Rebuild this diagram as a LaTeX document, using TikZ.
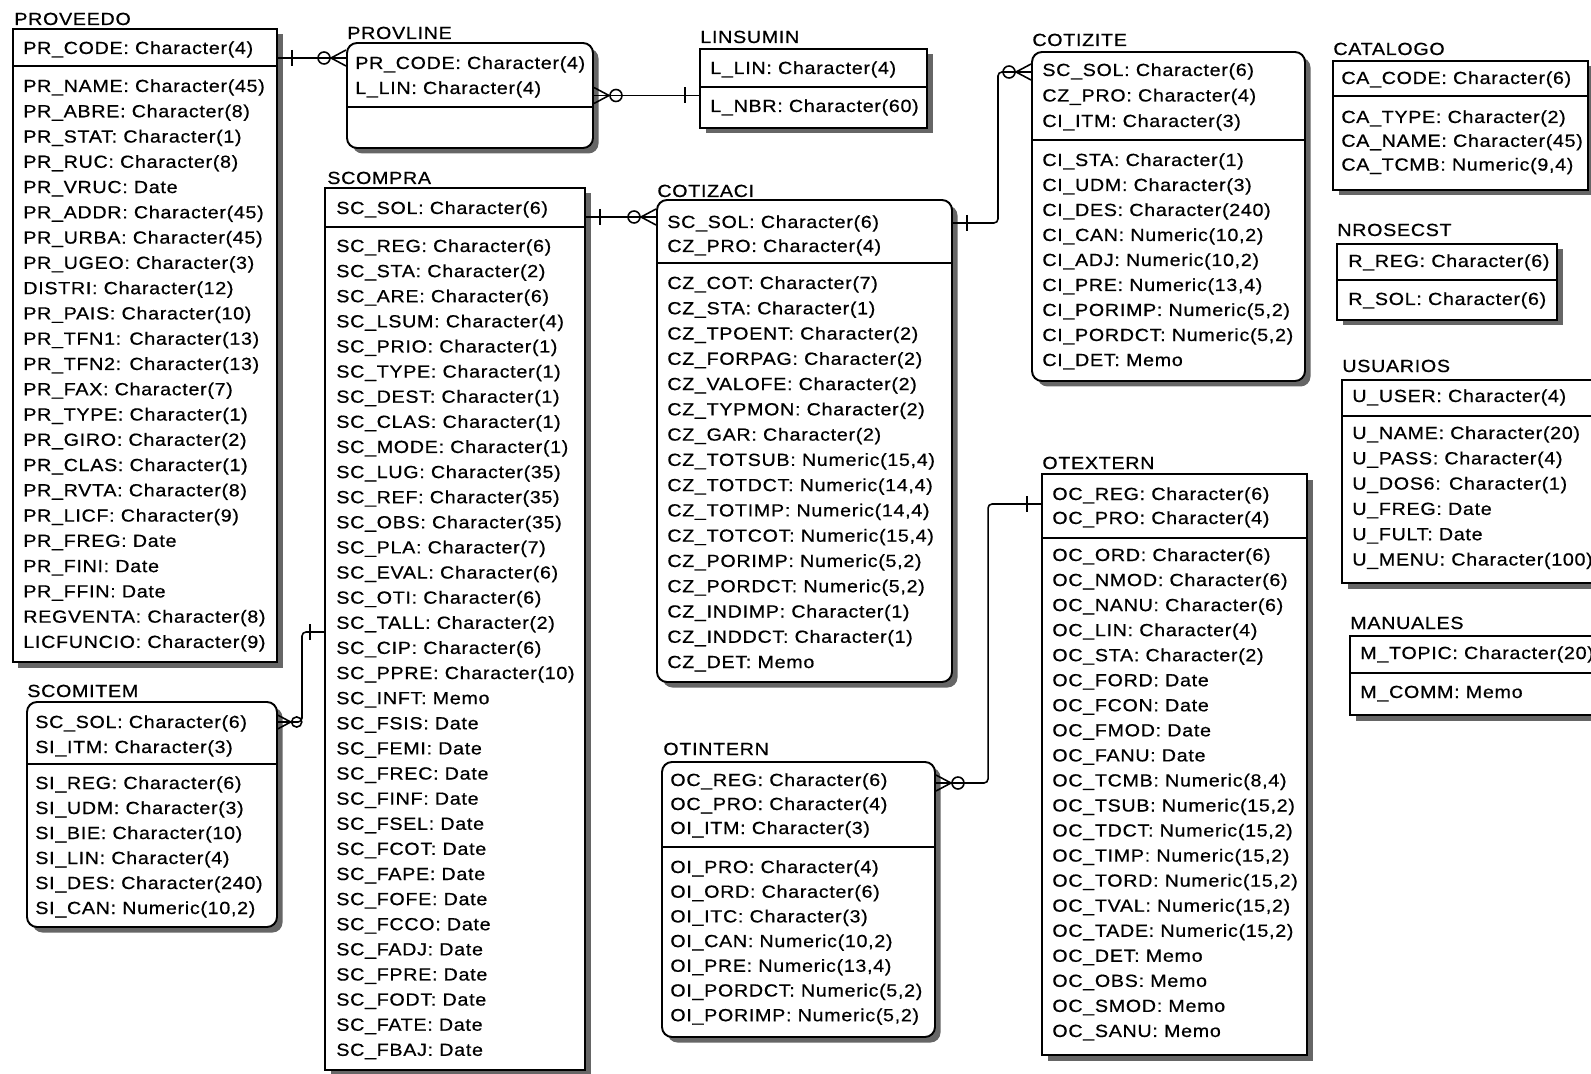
\documentclass[tikz,border=0pt]{standalone}
\usepackage{fontspec}
\setmainfont{Liberation Sans}[FakeStretch=1.12,LetterSpace=4,FakeBold=0.6]
\usetikzlibrary{fit,shadows}

\tikzset{
  ent/.style={draw,line width=1.1pt,fill=white,inner sep=0pt,
    drop shadow={shadow xshift=0.11cm,shadow yshift=-0.11cm,fill=black!60,opacity=1}},
  dep/.style={ent,rounded corners=0.2cm},
  ttl/.style={anchor=base west,inner sep=0pt},
  fld/.style={anchor=base west,inner sep=0pt},
  sep/.style={line width=1.1pt},
  rel/.style={line width=0.9pt},
  one/.pic={\draw[rel] (14,-8) -- (14,8);},
  zmany/.pic={\draw[rel] (0,-8) -- (15,0) -- (0,8); \draw[rel] (22,0) circle[radius=1.2mm];},
}

\begin{document}
\begin{tikzpicture}[x=0.02cm,y=-0.02cm,every node/.style={font=\fontsize{10pt}{12pt}\selectfont}]
\useasboundingbox (0,0) rectangle (1591,1074);
\fill[white] (0,0) rectangle (1591,1074);
\clip (0,0) rectangle (1591,1074);

% PROVEEDO
\node[ent,fit={(13,29) (277,662)}] (proveedo) {};
\node[ttl] (proveedo-t) at (14,25) {PROVEEDO};
\draw[sep] (proveedo.west |- 0,66) -- (proveedo.east |- 0,66);
\node[fld] (proveedo-k0) at (23,54) {PR\_CODE: Character(4)};
\foreach \row [count=\i from 0] in {PR\_NAME: Character(45), PR\_ABRE: Character(8), PR\_STAT: Character(1),
  PR\_RUC: Character(8), PR\_VRUC: Date, PR\_ADDR: Character(45), PR\_URBA: Character(45), PR\_UGEO: Character(3),
  DISTRI: Character(12), PR\_PAIS: Character(10), PR\_TFN1: Character(13), PR\_TFN2: Character(13),
  PR\_FAX: Character(7), PR\_TYPE: Character(1), PR\_GIRO: Character(2), PR\_CLAS: Character(1),
  PR\_RVTA: Character(8), PR\_LICF: Character(9), PR\_FREG: Date, PR\_FINI: Date, PR\_FFIN: Date,
  REGVENTA: Character(8), LICFUNCIO: Character(9)}
  \node[fld] (proveedo-b\i) at (23,{92+25.27*\i}) {\row};

% PROVLINE
\node[dep,fit={(347,43) (593,148)}] (provline) {};
\node[ttl] (provline-t) at (347,39) {PROVLINE};
\draw[sep] (provline.west |- 0,107) -- (provline.east |- 0,107);
\foreach \row [count=\i from 0] in {PR\_CODE: Character(4), L\_LIN: Character(4)}
  \node[fld] (provline-k\i) at (355,{69+25*\i}) {\row};

% LINSUMIN
\node[ent,fit={(700,49) (927,128)}] (linsumin) {};
\node[ttl] (linsumin-t) at (700,43) {LINSUMIN};
\draw[sep] (linsumin.west |- 0,87) -- (linsumin.east |- 0,87);
\node[fld] (linsumin-k0) at (710,74) {L\_LIN: Character(4)};
\node[fld] (linsumin-b0) at (710,112) {L\_NBR: Character(60)};

% SCOMPRA
\node[ent,fit={(325,188) (585,1070)}] (scompra) {};
\node[ttl] (scompra-t) at (327,184) {SCOMPRA};
\draw[sep] (scompra.west |- 0,227) -- (scompra.east |- 0,227);
\node[fld] (scompra-k0) at (336,214) {SC\_SOL: Character(6)};
\foreach \row [count=\i from 0] in {SC\_REG: Character(6), SC\_STA: Character(2), SC\_ARE: Character(6),
  SC\_LSUM: Character(4), SC\_PRIO: Character(1), SC\_TYPE: Character(1), SC\_DEST: Character(1),
  SC\_CLAS: Character(1), SC\_MODE: Character(1), SC\_LUG: Character(35), SC\_REF: Character(35),
  SC\_OBS: Character(35), SC\_PLA: Character(7), SC\_EVAL: Character(6), SC\_OTI: Character(6),
  SC\_TALL: Character(2), SC\_CIP: Character(6), SC\_PPRE: Character(10), SC\_INFT: Memo,
  SC\_FSIS: Date, SC\_FEMI: Date, SC\_FREC: Date, SC\_FINF: Date, SC\_FSEL: Date, SC\_FCOT: Date,
  SC\_FAPE: Date, SC\_FOFE: Date, SC\_FCCO: Date, SC\_FADJ: Date, SC\_FPRE: Date, SC\_FODT: Date,
  SC\_FATE: Date, SC\_FBAJ: Date}
  \node[fld] (scompra-b\i) at (336,{252+25.12*\i}) {\row};

% SCOMITEM
\node[dep,fit={(27,702) (277,927)}] (scomitem) {};
\node[ttl] (scomitem-t) at (27,697) {SCOMITEM};
\draw[sep] (scomitem.west |- 0,764) -- (scomitem.east |- 0,764);
\foreach \row [count=\i from 0] in {SC\_SOL: Character(6), SI\_ITM: Character(3)}
  \node[fld] (scomitem-k\i) at (35,{728+25*\i}) {\row};
\foreach \row [count=\i from 0] in {SI\_REG: Character(6), SI\_UDM: Character(3), SI\_BIE: Character(10),
  SI\_LIN: Character(4), SI\_DES: Character(240), {SI\_CAN: Numeric(10,2)}}
  \node[fld] (scomitem-b\i) at (35,{789+25*\i}) {\row};

% COTIZACI
\node[dep,fit={(657,200) (952,682)}] (cotizaci) {};
\node[ttl] (cotizaci-t) at (657,197) {COTIZACI};
\draw[sep] (cotizaci.west |- 0,263) -- (cotizaci.east |- 0,263);
\foreach \row [count=\i from 0] in {SC\_SOL: Character(6), CZ\_PRO: Character(4)}
  \node[fld] (cotizaci-k\i) at (667,{228+24*\i}) {\row};
\foreach \row [count=\i from 0] in {CZ\_COT: Character(7), CZ\_STA: Character(1), CZ\_TPOENT: Character(2),
  CZ\_FORPAG: Character(2), CZ\_VALOFE: Character(2), CZ\_TYPMON: Character(2), CZ\_GAR: Character(2),
  {CZ\_TOTSUB: Numeric(15,4)}, {CZ\_TOTDCT: Numeric(14,4)}, {CZ\_TOTIMP: Numeric(14,4)},
  {CZ\_TOTCOT: Numeric(15,4)}, {CZ\_PORIMP: Numeric(5,2)}, {CZ\_PORDCT: Numeric(5,2)},
  CZ\_INDIMP: Character(1), CZ\_INDDCT: Character(1), CZ\_DET: Memo}
  \node[fld] (cotizaci-b\i) at (667,{289+25.27*\i}) {\row};

% COTIZITE
\node[dep,fit={(1032,52) (1305,381)}] (cotizite) {};
\node[ttl] (cotizite-t) at (1032,46) {COTIZITE};
\draw[sep] (cotizite.west |- 0,140) -- (cotizite.east |- 0,140);
\foreach \row [count=\i from 0] in {SC\_SOL: Character(6), CZ\_PRO: Character(4), CI\_ITM: Character(3)}
  \node[fld] (cotizite-k\i) at (1042,{76+25.5*\i}) {\row};
\foreach \row [count=\i from 0] in {CI\_STA: Character(1), CI\_UDM: Character(3), CI\_DES: Character(240),
  {CI\_CAN: Numeric(10,2)}, {CI\_ADJ: Numeric(10,2)}, {CI\_PRE: Numeric(13,4)},
  {CI\_PORIMP: Numeric(5,2)}, {CI\_PORDCT: Numeric(5,2)}, CI\_DET: Memo}
  \node[fld] (cotizite-b\i) at (1042,{166+25*\i}) {\row};

% OTINTERN
\node[dep,fit={(662,762) (935,1037)}] (otintern) {};
\node[ttl] (otintern-t) at (663,755) {OTINTERN};
\draw[sep] (otintern.west |- 0,847) -- (otintern.east |- 0,847);
\foreach \row [count=\i from 0] in {OC\_REG: Character(6), OC\_PRO: Character(4), OI\_ITM: Character(3)}
  \node[fld] (otintern-k\i) at (670,{786+24*\i}) {\row};
\foreach \row [count=\i from 0] in {OI\_PRO: Character(4), OI\_ORD: Character(6), OI\_ITC: Character(3),
  {OI\_CAN: Numeric(10,2)}, {OI\_PRE: Numeric(13,4)}, {OI\_PORDCT: Numeric(5,2)}, {OI\_PORIMP: Numeric(5,2)}}
  \node[fld] (otintern-b\i) at (670,{873+24.7*\i}) {\row};

% OTEXTERN
\node[ent,fit={(1042,474) (1307,1055)}] (otextern) {};
\node[ttl] (otextern-t) at (1042,469) {OTEXTERN};
\draw[sep] (otextern.west |- 0,538) -- (otextern.east |- 0,538);
\foreach \row [count=\i from 0] in {OC\_REG: Character(6), OC\_PRO: Character(4)}
  \node[fld] (otextern-k\i) at (1052,{500+24*\i}) {\row};
\foreach \row [count=\i from 0] in {OC\_ORD: Character(6), OC\_NMOD: Character(6), OC\_NANU: Character(6),
  OC\_LIN: Character(4), OC\_STA: Character(2), OC\_FORD: Date, OC\_FCON: Date, OC\_FMOD: Date,
  OC\_FANU: Date, {OC\_TCMB: Numeric(8,4)}, {OC\_TSUB: Numeric(15,2)}, {OC\_TDCT: Numeric(15,2)},
  {OC\_TIMP: Numeric(15,2)}, {OC\_TORD: Numeric(15,2)}, {OC\_TVAL: Numeric(15,2)},
  {OC\_TADE: Numeric(15,2)}, OC\_DET: Memo, OC\_OBS: Memo, OC\_SMOD: Memo, OC\_SANU: Memo}
  \node[fld] (otextern-b\i) at (1052,{561+25.05*\i}) {\row};

% CATALOGO
\node[ent,fit={(1333,61) (1588,190)}] (catalogo) {};
\node[ttl] (catalogo-t) at (1333,55) {CATALOGO};
\draw[sep] (catalogo.west |- 0,96) -- (catalogo.east |- 0,96);
\node[fld] (catalogo-k0) at (1341,84) {CA\_CODE: Character(6)};
\foreach \row [count=\i from 0] in {CA\_TYPE: Character(2), CA\_NAME: Character(45), {CA\_TCMB: Numeric(9,4)}}
  \node[fld] (catalogo-b\i) at (1341,{123+23.8*\i}) {\row};

% NROSECST
\node[ent,fit={(1337,244) (1557,320)}] (nrosecst) {};
\node[ttl] (nrosecst-t) at (1337,236) {NROSECST};
\draw[sep] (nrosecst.west |- 0,280) -- (nrosecst.east |- 0,280);
\node[fld] (nrosecst-k0) at (1348,267) {R\_REG: Character(6)};
\node[fld] (nrosecst-b0) at (1348,305) {R\_SOL: Character(6)};

% USUARIOS
\node[ent,fit={(1342,380) (1610,583)}] (usuarios) {};
\node[ttl] (usuarios-t) at (1342,372) {USUARIOS};
\draw[sep] (usuarios.west |- 0,416) -- (usuarios.east |- 0,416);
\node[fld] (usuarios-k0) at (1352,402) {U\_USER: Character(4)};
\foreach \row [count=\i from 0] in {U\_NAME: Character(20), U\_PASS: Character(4), U\_DOS6: Character(1),
  U\_FREG: Date, U\_FULT: Date, U\_MENU: Character(100)}
  \node[fld] (usuarios-b\i) at (1352,{439+25.3*\i}) {\row};

% MANUALES
\node[ent,fit={(1350,636) (1610,715)}] (manuales) {};
\node[ttl] (manuales-t) at (1350,629) {MANUALES};
\draw[sep] (manuales.west |- 0,673) -- (manuales.east |- 0,673);
\node[fld] (manuales-k0) at (1360,659) {M\_TOPIC: Character(20)};
\node[fld] (manuales-b0) at (1360,698) {M\_COMM: Memo};

% relationships
\draw[rel] (proveedo.east |- 0,58) -- (provline.west |- 0,58);
\pic at (proveedo.east |- 0,58) {one};
\pic[xscale=-1] at (provline.west |- 0,58) {zmany};

\draw[rel] (provline.east) -- (linsumin.west |- provline.east);
\pic at (provline.east) {zmany};
\pic[xscale=-1] at (linsumin.west |- provline.east) {one};

\draw[rel] (scompra.east |- 0,217) -- (cotizaci.west |- 0,217);
\pic at (scompra.east |- 0,217) {one};
\pic[xscale=-1] at (cotizaci.west |- 0,217) {zmany};

\draw[rel,rounded corners=0.08cm] (cotizaci.east |- 0,223) -- ++(45,0) |- (cotizite.west |- 0,72);
\pic at (cotizaci.east |- 0,223) {one};
\pic[xscale=-1] at (cotizite.west |- 0,72) {zmany};

\draw[rel,rounded corners=0.08cm] (scompra.west |- 0,632) -- ++(-22,0) |- (scomitem.east |- 0,722);
\pic[xscale=-1] at (scompra.west |- 0,632) {one};
\pic[scale=0.85] at (scomitem.east |- 0,722) {zmany};

\draw[rel,rounded corners=0.08cm] (otextern.west |- 0,504) -- ++(-53,0) |- (otintern.east |- 0,783);
\pic[xscale=-1] at (otextern.west |- 0,504) {one};
\pic at (otintern.east |- 0,783) {zmany};
\end{tikzpicture}
\end{document}
